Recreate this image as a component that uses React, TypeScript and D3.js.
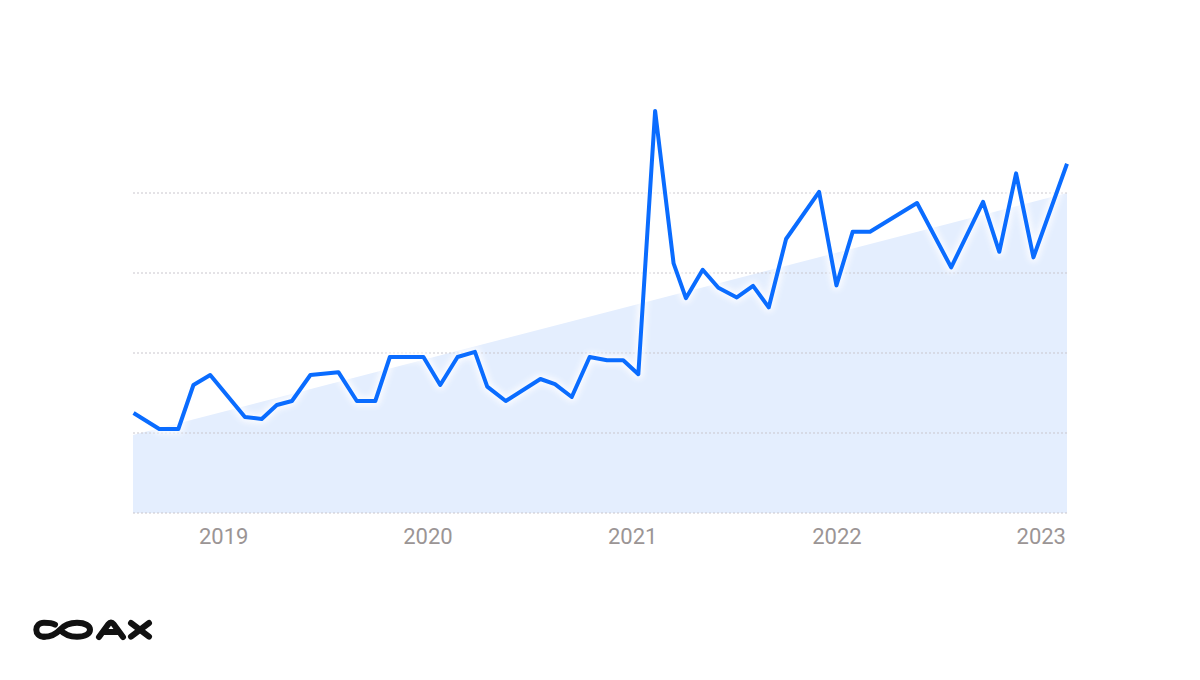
import React from "react";
import * as d3 from "d3";

// ---- data ----
const dates = [
  "2018-07-24", "2018-09-08", "2018-10-12", "2018-11-08", "2018-12-08",
  "2019-02-08", "2019-03-10", "2019-04-06", "2019-05-03", "2019-06-05",
  "2019-07-25", "2019-08-27", "2019-09-29", "2019-10-25", "2019-12-24",
  "2020-01-23", "2020-02-23", "2020-03-25", "2020-04-16", "2020-05-19",
  "2020-07-20", "2020-08-15", "2020-09-14", "2020-10-16", "2020-11-16",
  "2020-12-15", "2021-01-11", "2021-02-10", "2021-03-15", "2021-04-06",
  "2021-05-06", "2021-06-03", "2021-07-06", "2021-08-04", "2021-09-01",
  "2021-10-02", "2021-11-30", "2021-12-31", "2022-01-29", "2022-03-01",
  "2022-05-24", "2022-07-24", "2022-09-19", "2022-10-18", "2022-11-17",
  "2022-12-18", "2023-02-16",
];
const values = [
  25, 21, 21, 32, 34.5,
  24, 23.5, 27, 28, 34.5,
  35.2, 28, 28, 39, 39,
  32, 39, 40.3, 31.6, 28,
  33.5, 32.2, 29, 39, 38.2,
  38.2, 34.7, 100.5, 62.4, 53.7,
  60.8, 56.3, 53.9, 56.8, 51.4,
  68.5, 80.3, 56.9, 70.3, 70.3,
  77.5, 61.4, 77.8, 65.3, 84.9,
  63.9, 87.3,
];
const trendDates = ["2018-07-23", "2023-02-16"];
const trendValues = [19.5, 80];
const gridValues = [0, 20, 40, 60, 80];
const yearTicks = ["2019-01-01", "2020-01-01", "2021-01-01", "2022-01-01", "2023-01-01"];
const xDomain = ["2018-07-23", "2023-02-16"];

const parse = d3.utcParse("%Y-%m-%d");

export default function App() {
  const W = 1200;
  const H = 680;
  const left = 133;
  const right = 1067;
  const top = 113;
  const bottom = 513;

  const x = d3
    .scaleUtc()
    .domain(xDomain.map((d) => parse(d) as Date))
    .range([left, right]);
  const y = d3.scaleLinear().domain([0, 100]).range([bottom, top]);

  const pts = dates.map((d, i) => ({ date: parse(d) as Date, v: values[i] }));
  const trend = trendDates.map((d, i) => ({ date: parse(d) as Date, v: trendValues[i] }));

  const line = d3
    .line<{ date: Date; v: number }>()
    .x((d) => x(d.date))
    .y((d) => y(d.v));
  const area = d3
    .area<{ date: Date; v: number }>()
    .x((d) => x(d.date))
    .y0(y(0))
    .y1((d) => y(d.v));

  const fmt = d3.utcFormat("%Y");

  return (
    <svg
      width={W}
      height={H}
      viewBox={`0 0 ${W} ${H}`}
      style={{ position: "absolute", left: 0, top: 0, background: "#ffffff" }}
    >
      <defs>
        <filter id="halo" x="-10%" y="-10%" width="120%" height="120%">
          <feGaussianBlur stdDeviation="3" />
        </filter>
      </defs>
      <rect x={0} y={0} width={W} height={H} fill="#ffffff" />

      {/* trend fill */}
      <path d={area(trend) || ""} fill="#e4eefe" />

      {/* grid */}
      {gridValues.map((g) => (
        <line
          key={g}
          x1={left}
          x2={right}
          y1={y(g)}
          y2={y(g)}
          stroke="#c9c6cd"
          strokeWidth={1}
          strokeDasharray="2,2"
        />
      ))}

      {/* white halo under line */}
      <path
        d={line(pts) || ""}
        fill="none"
        stroke="#ffffff"
        strokeWidth={9}
        strokeLinejoin="round"
        filter="url(#halo)"
        opacity={0.9}
      />
      {/* main line */}
      <path
        d={line(pts) || ""}
        fill="none"
        stroke="#0a6cff"
        strokeWidth={4}
        strokeLinejoin="round"
      />

      {/* year labels */}
      {yearTicks.map((t) => {
        const dt = parse(t) as Date;
        return (
          <text
            key={t}
            x={x(dt)}
            y={544}
            textAnchor="middle"
            fontFamily="Roboto, 'Noto Sans', sans-serif"
            fontSize={22}
            fill="#9b9595"
          >
            {fmt(dt)}
          </text>
        );
      })}

      {/* COAX logo */}
      <g fill="none" stroke="#111111" strokeWidth={6} strokeLinecap="round" strokeLinejoin="round">
        <title>COAX</title>
        <path d="M44,636.8 C51,636.8 55.5,634.8 60,629.8 C64.5,624.8 69,622.8 77,622.8 C85.5,622.8 90,626 90,629.8 C90,633.6 85.5,636.8 77,636.8 C69,636.8 64.5,634.8 60,629.8" />
        <path d="M55,624.6 C52.5,623.3 49,622.8 44,622.8 C39,622.8 36.3,626.2 36.3,629.8 C36.3,633.4 39,636.8 44,636.8" />
        <path d="M99,637 L108.5,624 C110,622 112,622 113.5,624 L123,637" />
        <path d="M104,632 L118,632" />
        <path d="M131,623 L149,636.6 M149,623 L131,636.6" />
      </g>
    </svg>
  );
}
